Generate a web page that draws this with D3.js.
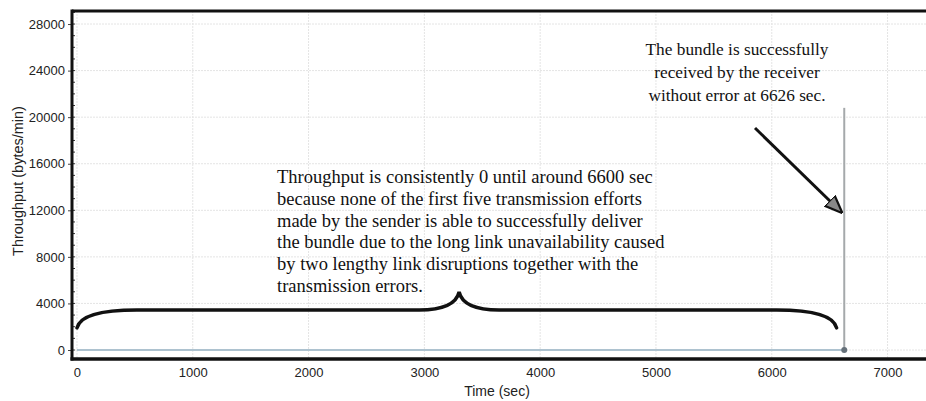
<!DOCTYPE html>
<html>
<head>
<meta charset="utf-8">
<script src="https://cdn.jsdelivr.net/npm/d3@7"></script>
<style>
  body { margin: 0; background: #fff; }
  svg { display: block; }
  .serif { font-family: "Liberation Serif", "Times New Roman", Times, serif; }
</style>
</head>
<body>
<div id="chart"></div>
<script>
// Chart data
var timeSec = [0, 6626, 6626];
var throughput = [0, 0, 20800];
var xTicks = [0, 1000, 2000, 3000, 4000, 5000, 6000, 7000];
var yTicks = [0, 4000, 8000, 12000, 16000, 20000, 24000, 28000];
var yMinorTicks = d3.range(0, 29001, 1000);

// Brace shape in data units [time, throughput]
var bracePts = [[0, 1900], [6560, 1900], [3300, 5000]];

var noteLines = [
  "Throughput is consistently 0 until around 6600 sec",
  "because none of the first five transmission efforts",
  "made by the sender is able to successfully deliver",
  "the bundle due to the long link unavailability caused",
  "by two lengthy link disruptions together with the",
  "transmission errors."
];
var arrowNote = [
  "The bundle is successfully",
  "received by the receiver",
  "without error at 6626 sec."
];

var width = 926, height = 401;
var margin = { left: 72, right: 0, top: 11, bottom: 42 };

var svg = d3.select("#chart").append("svg")
  .attr("width", width)
  .attr("height", height);

var x = d3.scaleLinear().domain([-43, 7332]).range([margin.left, width - margin.right]);
var y = d3.scaleLinear().domain([-773, 29120]).range([height - margin.bottom, margin.top]);

// Grid lines
svg.append("g")
  .selectAll("line")
  .data(xTicks)
  .join("line")
  .attr("x1", d => x(d)).attr("x2", d => x(d))
  .attr("y1", y.range()[1]).attr("y2", y.range()[0])
  .attr("stroke", "#e4e4e4")
  .attr("stroke-dasharray", "2,1");

svg.append("g")
  .selectAll("line")
  .data(yTicks)
  .join("line")
  .attr("x1", margin.left).attr("x2", width)
  .attr("y1", d => y(d)).attr("y2", d => y(d))
  .attr("stroke", "#e4e4e4")
  .attr("stroke-dasharray", "2,1");

// Series: flat baseline then the spike
var pts = timeSec.map((t, i) => [t, throughput[i]]);
svg.append("path")
  .datum(pts.slice(0, 2))
  .attr("fill", "none")
  .attr("stroke", "#adc2cf")
  .attr("stroke-width", 2)
  .attr("d", d3.line().x(d => x(d[0])).y(d => y(d[1])));

svg.append("path")
  .datum(pts.slice(1))
  .attr("fill", "none")
  .attr("stroke", "#a5a9ab")
  .attr("stroke-width", 2)
  .attr("d", d3.line().x(d => x(d[0])).y(d => y(d[1])));

svg.append("circle")
  .attr("cx", x(timeSec[1]))
  .attr("cy", y(throughput[1]))
  .attr("r", 3)
  .attr("fill", "#66717a");

// Axes
var fontSans = "'Liberation Sans', Arial, sans-serif";

var yAxis = svg.append("g")
  .attr("transform", `translate(${margin.left},0)`)
  .call(d3.axisLeft(y).tickValues(yTicks).tickSize(4).tickPadding(3).tickFormat(d3.format("d")));
yAxis.select(".domain").remove();
yAxis.selectAll("text").attr("font-family", fontSans).attr("font-size", 13).attr("fill", "#222");
yAxis.selectAll("line").attr("stroke", "#444");

svg.append("g")
  .selectAll("line")
  .data(yMinorTicks)
  .join("line")
  .attr("x1", margin.left).attr("x2", margin.left + 3)
  .attr("y1", d => y(d)).attr("y2", d => y(d))
  .attr("stroke", "#333");

var xAxis = svg.append("g")
  .attr("transform", `translate(0,${height - margin.bottom})`)
  .call(d3.axisBottom(x).tickValues(xTicks).tickSize(0).tickPadding(9).tickFormat(d3.format("d")));
xAxis.select(".domain").remove();
xAxis.selectAll("text").attr("font-family", fontSans).attr("font-size", 13).attr("fill", "#222");

// Frame lines (left, top, bottom)
svg.append("line")
  .attr("x1", margin.left).attr("x2", margin.left)
  .attr("y1", margin.top - 1.5).attr("y2", height - margin.bottom + 1.5)
  .attr("stroke", "#111").attr("stroke-width", 3);
svg.append("line")
  .attr("x1", margin.left).attr("x2", width)
  .attr("y1", margin.top).attr("y2", margin.top)
  .attr("stroke", "#111").attr("stroke-width", 3);
svg.append("line")
  .attr("x1", margin.left - 1.5).attr("x2", width)
  .attr("y1", height - margin.bottom).attr("y2", height - margin.bottom)
  .attr("stroke", "#111").attr("stroke-width", 3.5);

// Axis titles
svg.append("text")
  .attr("transform", "translate(23,181) rotate(-90)")
  .attr("text-anchor", "middle")
  .attr("font-family", fontSans)
  .attr("font-size", 14.5)
  .attr("fill", "#222")
  .text("Throughput (bytes/min)");

svg.append("text")
  .attr("x", 497)
  .attr("y", 396)
  .attr("text-anchor", "middle")
  .attr("font-family", fontSans)
  .attr("font-size", 14)
  .attr("fill", "#222")
  .text("Time (sec)");

// Curly brace
var bx0 = x(bracePts[0][0]), bx1 = x(bracePts[1][0]);
var by0 = y(bracePts[0][1]), bmid = x(bracePts[2][0]), btip = y(bracePts[2][1]);
var bh = by0 - 18;
var brace = d3.path();
brace.moveTo(bx0, by0);
brace.quadraticCurveTo(bx0 + 4, bh, bx0 + 60, bh);
brace.lineTo(bmid - 40, bh);
brace.quadraticCurveTo(bmid - 4, bh, bmid, btip);
brace.quadraticCurveTo(bmid + 4, bh, bmid + 40, bh);
brace.lineTo(bx1 - 60, bh);
brace.quadraticCurveTo(bx1 - 4, bh, bx1, by0);
svg.append("path")
  .attr("d", brace.toString())
  .attr("fill", "none")
  .attr("stroke", "#111")
  .attr("stroke-width", 3.5)
  .attr("stroke-linecap", "round");

// Annotation text
svg.append("text")
  .attr("class", "serif")
  .attr("font-size", 18.5)
  .attr("fill", "#111")
  .selectAll("tspan")
  .data(noteLines)
  .join("tspan")
  .attr("x", 277)
  .attr("y", (d, i) => 183 + i * 21.8)
  .text(d => d);

svg.append("text")
  .attr("class", "serif")
  .attr("font-size", 17.3)
  .attr("fill", "#111")
  .attr("text-anchor", "middle")
  .selectAll("tspan")
  .data(arrowNote)
  .join("tspan")
  .attr("x", 737)
  .attr("y", (d, i) => 55 + i * 23)
  .text(d => d);

// Arrow to spike
svg.append("defs").append("marker")
  .attr("id", "head")
  .attr("viewBox", "0 0 10 10")
  .attr("refX", 9).attr("refY", 5)
  .attr("markerWidth", 6).attr("markerHeight", 6)
  .attr("markerUnits", "strokeWidth")
  .attr("orient", "auto")
  .append("path")
  .attr("d", "M0,1 L10,5 L0,9 Z")
  .attr("fill", "#888")
  .attr("stroke", "#111")
  .attr("stroke-width", 1.2);

svg.append("line")
  .attr("x1", 755).attr("y1", 128)
  .attr("x2", x(timeSec[1]) - 3).attr("y2", 212)
  .attr("stroke", "#111")
  .attr("stroke-width", 3)
  .attr("marker-end", "url(#head)");
</script>
</body>
</html>
